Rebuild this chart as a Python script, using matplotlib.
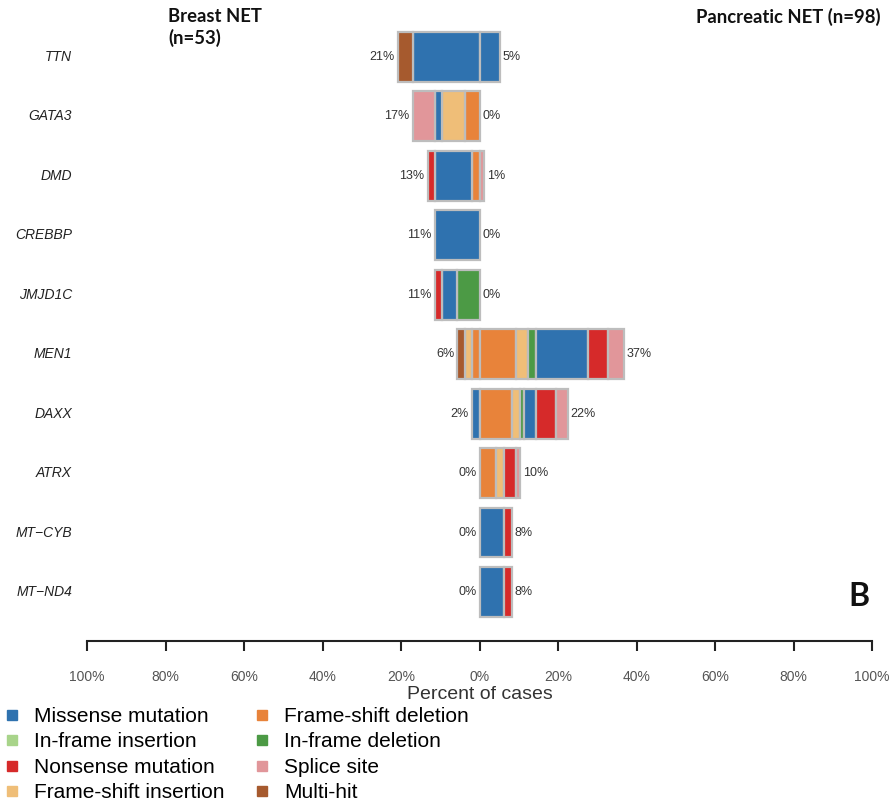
import numpy as np
import matplotlib.pyplot as plt
from matplotlib.lines import Line2D

plt.rcParams['font.family'] = ['Liberation Sans', 'DejaVu Sans']

genes = ['TTN', 'GATA3', 'DMD', 'CREBBP', 'JMJD1C', 'MEN1', 'DAXX', 'ATRX',
         'MT\u2212CYB', 'MT\u2212ND4']
n_breast = 53
n_panc = 98

# mutated cases per gene and mutation class, breast NET
breast_fs_del   = [0, 2, 1, 0, 0, 1, 0, 0, 0, 0]
breast_fs_ins   = [0, 3, 0, 0, 0, 1, 0, 0, 0, 0]
breast_if_del   = [0, 0, 0, 0, 3, 0, 0, 0, 0, 0]
breast_if_ins   = [0, 0, 0, 0, 0, 0, 0, 0, 0, 0]
breast_missense = [9, 1, 5, 6, 2, 0, 1, 0, 0, 0]
breast_nonsense = [0, 0, 1, 0, 1, 0, 0, 0, 0, 0]
breast_splice   = [0, 3, 0, 0, 0, 0, 0, 0, 0, 0]
breast_multi    = [2, 0, 0, 0, 0, 1, 0, 0, 0, 0]

# same for pancreatic NET
panc_fs_del   = [0, 0, 0, 0, 0, 9, 8, 4, 0, 0]
panc_fs_ins   = [0, 0, 0, 0, 0, 3, 2, 2, 0, 0]
panc_if_del   = [0, 0, 0, 0, 0, 2, 1, 0, 0, 0]
panc_if_ins   = [0, 0, 0, 0, 0, 0, 0, 0, 0, 0]
panc_missense = [5, 0, 0, 0, 0, 13, 3, 0, 6, 6]
panc_nonsense = [0, 0, 0, 0, 0, 5, 5, 3, 2, 2]
panc_splice   = [0, 0, 1, 0, 0, 4, 3, 1, 0, 0]
panc_multi    = [0, 0, 0, 0, 0, 0, 0, 0, 0, 0]

# stacking order, from the centre line outwards
classes = ['Frame-shift deletion', 'Frame-shift insertion', 'In-frame deletion',
           'In-frame insertion', 'Missense mutation', 'Nonsense mutation',
           'Splice site', 'Multi-hit']
colors = ['#E8833A', '#EFBE78', '#4C9A45', '#A8D48A', '#2F72AF', '#D62A2A',
          '#E1969A', '#A65A2E']
legend_order = ['Missense mutation', 'In-frame insertion', 'Nonsense mutation',
                'Frame-shift insertion', 'Frame-shift deletion', 'In-frame deletion',
                'Splice site', 'Multi-hit']

breast = [breast_fs_del, breast_fs_ins, breast_if_del, breast_if_ins,
          breast_missense, breast_nonsense, breast_splice, breast_multi]
panc = [panc_fs_del, panc_fs_ins, panc_if_del, panc_if_ins,
        panc_missense, panc_nonsense, panc_splice, panc_multi]

fig = plt.figure(figsize=(8.92, 8.10), dpi=100)
ax = fig.add_axes([87 / 892, 1 - 641 / 810, 785 / 892, 641 / 810])

y = np.arange(len(genes))
edge = '#BDBDBD'

for counts, n, sign in [(breast, n_breast, -1), (panc, n_panc, 1)]:
    pct = 100 * np.array(counts, dtype=float) / n
    start = np.zeros(len(genes))
    for k in range(len(classes)):
        w = pct[k]
        m = w > 0
        ax.barh(y[m], sign * w[m], left=sign * start[m], height=0.84,
                color=colors[k], edgecolor=edge, linewidth=1.6, zorder=2)
        start += w
    for i, tot in enumerate(start):
        ax.text(sign * (tot + 0.8), y[i], f'{int(round(tot))}%',
                ha='left' if sign > 0 else 'right', va='center',
                fontsize=9, color='#333333')

for i, g in enumerate(genes):
    ax.text(-103.8, y[i], g, ha='right', va='center', fontsize=10,
            style='italic', color='#222222', clip_on=False)

ax.set_xlim(-100, 100)
ax.set_ylim(9.825, -0.959)
for s in ['left', 'right', 'top']:
    ax.spines[s].set_visible(False)
ax.spines['bottom'].set_linewidth(1.5)
ax.spines['bottom'].set_color('#222222')
ticks = np.arange(-100, 101, 20)
ax.set_xticks(ticks)
ax.set_xticklabels([f'{abs(t)}%' for t in ticks], fontsize=10, color='#555555')
ax.tick_params(axis='x', direction='out', length=7, width=1.5, color='#222222', pad=14)
ax.set_yticks([])
ax.set_xlabel('Percent of cases', fontsize=14, color='#333333', labelpad=1)

fig.text(168 / 892, 1 - 8 / 810, 'Breast NET\n(n=53)', ha='left', va='top',
         fontsize=13.3, fontweight='bold', family='Lato', color='#111111',
         linespacing=1.25)
fig.text(880 / 892, 1 - 8 / 810, 'Pancreatic NET (n=98)', ha='right', va='top',
         fontsize=13.3, fontweight='bold', family='Lato', color='#111111')
fig.text(848 / 892, 1 - 606 / 810, 'B', ha='left', va='baseline',
         fontsize=23, fontweight='bold', family='Lato', color='#111111')

handles = [Line2D([], [], marker='s', linestyle='', markersize=7.5,
                  color=colors[classes.index(c)]) for c in legend_order]
fig.legend(handles, legend_order, loc='upper left',
           bbox_to_anchor=(4 / 892, 1 - 707 / 810), ncol=2, frameon=False,
           fontsize=15, handlelength=0.8, handletextpad=0.65, columnspacing=1.4,
           labelspacing=0.31, borderaxespad=0, borderpad=0)

fig.savefig('out.png', dpi=100)
